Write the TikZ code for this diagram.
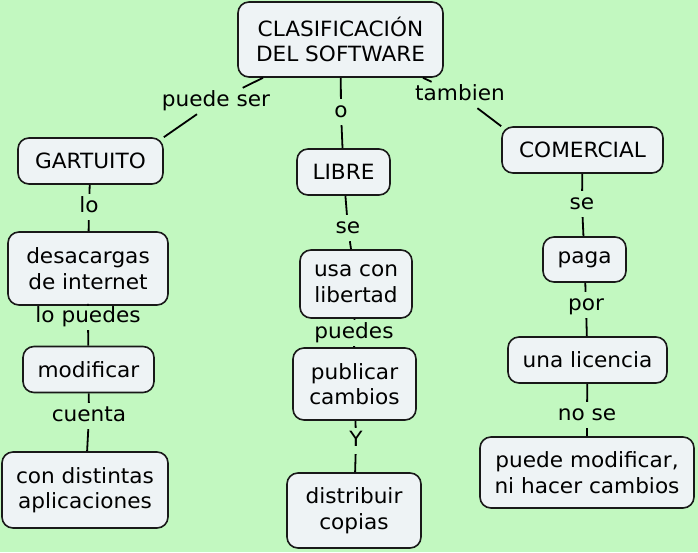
\documentclass[tikz,border=0pt]{standalone}
\usepackage{fontspec}
\setmainfont{DejaVu Sans}[FakeStretch=1.03]
\definecolor{bgc}{HTML}{C2F8C0}
\definecolor{boxc}{HTML}{EEF3F5}
\begin{document}
\begin{tikzpicture}[x=1pt,y=-1pt,
  concept/.style={draw=black!90, line width=1.6pt, fill=boxc, rounded corners=11pt,
    align=center, inner sep=0pt, font=\fontsize{21}{25.5}\selectfont},
  lbl/.style={inner xsep=3pt, inner ysep=4pt, text height=14pt, text depth=4pt, font=\fontsize{21}{25}\selectfont},
  conn/.style={draw=black, line width=1.8pt}]
\fill[bgc] (0,0) rectangle (698,552);
\useasboundingbox (0,0) rectangle (698,552);
% concepts
\node[concept, minimum width=205pt, minimum height=75pt] (clas) at (340.5,39.5) {CLASIFICACIÓN\\DEL SOFTWARE};
\node[concept, minimum width=145pt, minimum height=46pt] (gart) at (90.5,161) {GARTUITO};
\node[concept, minimum width=93pt, minimum height=46pt] (libre) at (343.5,172) {LIBRE};
\node[concept, minimum width=161pt, minimum height=46pt] (com) at (582.5,150) {COMERCIAL};
\node[concept, minimum width=160pt, minimum height=73pt] (desc) at (88,268.5) {desacargas\\de internet};
\node[concept, minimum width=112pt, minimum height=68pt] (usa) at (356,284) {usa con\\libertad};
\node[concept, minimum width=83pt, minimum height=45pt] (paga) at (584.5,259.5) {paga};
\node[concept, minimum width=131pt, minimum height=46pt] (modif) at (88.5,369.5) {modificar};
\node[concept, minimum width=123pt, minimum height=72pt] (publ) at (354.5,384) {publicar\\cambios};
\node[concept, minimum width=159pt, minimum height=46pt] (lic) at (587.5,360) {una licencia};
\node[concept, minimum width=166pt, minimum height=76pt] (cond) at (85,490) {con distintas\\aplicaciones};
\node[concept, minimum width=134pt, minimum height=75pt] (dist) at (354,510.5) {distribuir\\copias};
\node[concept, minimum width=214pt, minimum height=71pt] (pmod) at (587,472.5) {puede modificar,\\ni hacer cambios};
% linking phrases
\node[lbl] (l1) at (216,101) {puede ser};
\node[lbl] (l2) at (341,112) {o};
\node[lbl] (l3) at (460,95) {tambien};
\node[lbl] (l4) at (89,207) {lo};
\node[lbl] (l5) at (348,228) {se};
\node[lbl] (l6) at (582,204) {se};
\node[lbl] (l7) at (88,317) {lo puedes};
\node[lbl] (l8) at (354,333) {puedes};
\node[lbl] (l9) at (586,305) {por};
\node[lbl] (l10) at (89,416) {cuenta};
\node[lbl] (l11) at (356,441) {Y};
\node[lbl] (l12) at (587,415) {no se};
% connectors
\draw[conn] (clas) -- (l1) -- (gart.north east);
\draw[conn] (clas) -- (l2) -- (libre);
\draw[conn] (clas) -- (l3) -- (com.north west);
\draw[conn] (gart) -- (l4) -- (desc);
\draw[conn] (libre) -- (l5) -- (usa);
\draw[conn] (com) -- (l6) -- (paga);
\draw[conn] (desc) -- (l7) -- (modif);
\draw[conn] (usa) -- (l8) -- (publ);
\draw[conn] (paga) -- (l9) -- (lic);
\draw[conn] (modif) -- (l10) -- (cond);
\draw[conn] (publ) -- (l11) -- (dist);
\draw[conn] (lic) -- (l12) -- (pmod);
\end{tikzpicture}
\end{document}
